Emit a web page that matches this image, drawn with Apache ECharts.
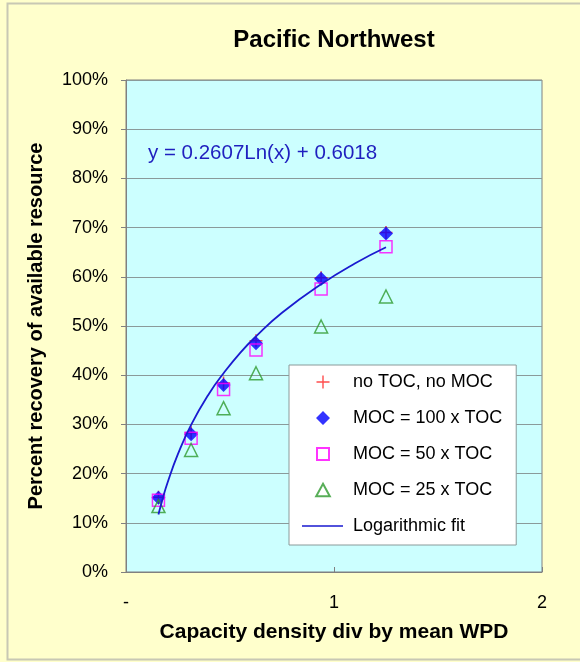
<!DOCTYPE html>
<html>
<head>
<meta charset="utf-8">
<script src="https://cdn.jsdelivr.net/npm/echarts@6/dist/echarts.min.js"></script>
<style>
html,body{margin:0;padding:0;background:#ffffcc;}
#chart{width:580px;height:662px;}
</style>
</head>
<body>
<div id="chart"></div>
<script>
// ---- data ----
var xVals = [0.156, 0.313, 0.469, 0.625, 0.938, 1.25];
var noTocNoMoc = [0.152, 0.283, 0.384, 0.470, 0.598, 0.690];
var moc100 = [0.151, 0.280, 0.380, 0.465, 0.596, 0.688];
var moc50 = [0.146, 0.272, 0.371, 0.451, 0.575, 0.661];
var moc25 = [0.134, 0.248, 0.333, 0.404, 0.499, 0.560];
var fitX = [0.156, 0.175, 0.2, 0.25, 0.313, 0.4, 0.469, 0.55, 0.625, 0.75, 0.938, 1.1, 1.25];
var fitY = [0.117, 0.147, 0.182, 0.240, 0.299, 0.363, 0.404, 0.446, 0.479, 0.527, 0.585, 0.627, 0.660];
var seriesNames = ['no TOC, no MOC', 'MOC = 100 x TOC', 'MOC = 50 x TOC', 'MOC = 25 x TOC', 'Logarithmic fit'];
var xTicks = {0: '-', 1: '1', 2: '2'};
var titleText = 'Pacific Northwest';
var xName = 'Capacity density div by mean WPD';
var yName = 'Percent recovery of available resource';
var equationText = 'y = 0.2607Ln(x) + 0.6018';

function pairs(xs, ys) { return xs.map(function (x, i) { return [x, ys[i]]; }); }

var FONT = '"Liberation Sans", Arial, sans-serif';
var chart = echarts.init(document.getElementById('chart'), null, {renderer: 'canvas'});
var plusPath = 'path://M0,4.4H10V5.6H0ZM4.4,0H5.6V10H4.4Z';

// legend icons: box 46x14, marker centred at x=21
var BOX = 'M0,0L0,0ZM46,14L46,14Z';
var legendIcons = [
  'path://' + BOX + 'M14.5,6.3H27.5V7.7H14.5ZM20.3,0.5H21.7V13.5H20.3Z',
  'path://' + BOX + 'M14,7L21,0L28,7L21,14Z',
  'path://' + BOX + 'M15,1H27V13H15Z',
  'path://' + BOX + 'M21,0.8L27.8,13.2H14.2Z',
  'path://' + BOX + 'M0,6.2H41V7.8H0Z'
];

chart.setOption({
  backgroundColor: '#ffffcc',
  animation: false,
  title: {
    text: titleText, left: 329, top: 23, textAlign: 'center',
    textStyle: {fontFamily: FONT, fontSize: 24, fontWeight: 'bold', color: '#000'}
  },
  grid: {
    left: 126, right: 38, top: 80, bottom: 90,
    show: true, backgroundColor: '#ccffff', borderColor: '#808080', borderWidth: 1
  },
  legend: {
    orient: 'vertical', left: 289, top: 365,
    padding: [8, 14, 10, 12], itemGap: 18, itemWidth: 46, itemHeight: 14,
    backgroundColor: '#ffffff', borderColor: '#8a9a9a', borderWidth: 1,
    textStyle: {fontFamily: FONT, fontSize: 18, color: '#000'},
    data: seriesNames.map(function (n, i) { return {name: n, icon: legendIcons[i]}; })
  },
  xAxis: {
    type: 'value', min: 0, max: 2, interval: 1,
    name: xName, nameLocation: 'middle', nameGap: 50,
    nameTextStyle: {fontFamily: FONT, fontSize: 21, fontWeight: 'bold', color: '#000'},
    axisLine: {lineStyle: {color: '#808080'}},
    axisTick: {inside: true, length: 5, lineStyle: {color: '#808080'}},
    axisLabel: {fontFamily: FONT, fontSize: 18, color: '#000', margin: 22,
      formatter: function (v) { return xTicks[v] !== undefined ? xTicks[v] : ''; }},
    splitLine: {show: false}
  },
  yAxis: {
    type: 'value', min: 0, max: 1, interval: 0.1,
    name: yName, nameLocation: 'middle', nameGap: 80, nameRotate: 90,
    nameTextStyle: {fontFamily: FONT, fontSize: 20, fontWeight: 'bold', color: '#000'},
    axisLine: {show: true, lineStyle: {color: '#808080'}},
    axisTick: {show: true, length: 5, lineStyle: {color: '#808080'}},
    axisLabel: {fontFamily: FONT, fontSize: 18, color: '#000', margin: 18,
      formatter: function (v) { return Math.round(v * 100) + '%'; }},
    splitLine: {show: true, lineStyle: {color: '#8a9a9a', width: 1}}
  },
  graphic: [
    {type: 'rect', left: 5, top: 1, z: 100, silent: true,
      shape: {width: 600, height: 656},
      style: {fill: 'none', stroke: '#c8c8b4', lineWidth: 2}},
    {type: 'text', left: 148, top: 143, z: 100,
      style: {text: equationText, fontFamily: FONT, fontSize: 20.5, fill: '#1f1fbf'}}
  ],
  series: [
    {name: seriesNames[0], type: 'scatter', data: pairs(xVals, noTocNoMoc),
      symbol: plusPath, symbolSize: 13, itemStyle: {color: '#ff2020'}},
    {name: seriesNames[1], type: 'scatter', data: pairs(xVals, moc100),
      symbol: 'diamond', symbolSize: 14, itemStyle: {color: '#0000ff'}},
    {name: seriesNames[2], type: 'scatter', data: pairs(xVals, moc50),
      symbol: 'rect', symbolSize: 12,
      itemStyle: {color: 'rgba(255,255,255,0)', borderColor: '#ff00ff', borderWidth: 1.5}},
    {name: seriesNames[3], type: 'scatter', data: pairs(xVals, moc25),
      symbol: 'triangle', symbolSize: 13,
      itemStyle: {color: 'rgba(255,255,255,0)', borderColor: '#2e9a2e', borderWidth: 1.5}},
    {name: seriesNames[4], type: 'line', data: pairs(fitX, fitY), smooth: true,
      symbol: 'none', showSymbol: false, z: 3,
      lineStyle: {color: '#1a1ad0', width: 1.8}, itemStyle: {color: '#1a1ad0'}}
  ]
});
</script>
</body>
</html>
